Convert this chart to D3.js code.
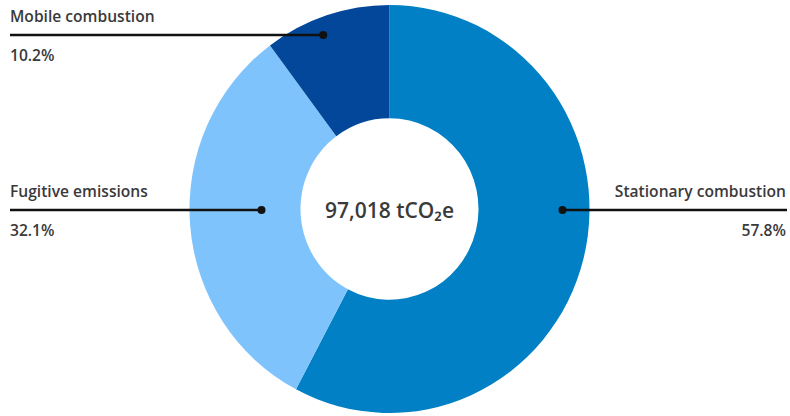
<!DOCTYPE html>
<html>
<head>
<meta charset="utf-8">
<script src="https://cdn.jsdelivr.net/npm/d3@7"></script>
<style>
  html, body { margin: 0; padding: 0; background: #fff; }
  svg { display: block; }
  text { font-family: "Open Sans", Lato, sans-serif; fill: #3a3a3a; }
</style>
</head>
<body>
<svg id="chart" width="790" height="416"></svg>
<script>
// Scope 1 emissions by source
const categories = ["Stationary combustion", "Fugitive emissions", "Mobile combustion"];
const shares = [57.8, 32.1, 10.2];
const colors = ["#0180c5", "#7fc3fc", "#03479a"];
const totalLabel = "97,018 tCO₂e";

// Label placement: side, line level and how far into the ring the marker sits
const labelSide = ["right", "left", "left"];
const lineY = [210, 210, 35];
const markerRadius = [173, 128, 183];

const W = 790, H = 416;
const cx = 389.5, cy = 209;
const outerR = 200, innerR = 89, yStretch = 1.02;

const svg = d3.select("#chart");

const pie = d3.pie().sort(null).value(d => d)(shares);
const arc = d3.arc().innerRadius(innerR).outerRadius(outerR);

svg.append("g")
  .attr("transform", `translate(${cx},${cy}) scale(1,${yStretch})`)
  .selectAll("path")
  .data(pie)
  .join("path")
  .attr("d", arc)
  .attr("fill", (d, i) => colors[i]);

// Center total
svg.append("text")
  .attr("x", cx)
  .attr("y", cy + 9)
  .attr("text-anchor", "middle")
  .style("font-size", "21px")
  .style("font-weight", 600)
  .text(totalLabel);

// Leader lines, markers and labels
const fmt = v => v.toFixed(1) + "%";
const labels = svg.append("g");
categories.forEach((name, i) => {
  const y = lineY[i];
  const dy = (y - cy) / yStretch;
  const dx = Math.sqrt(Math.max(0, markerRadius[i] ** 2 - dy ** 2));
  const right = labelSide[i] === "right";
  const mx = right ? cx + dx : cx - dx;
  const edgeX = right ? 787 : 10;

  labels.append("line")
    .attr("x1", mx).attr("x2", edgeX)
    .attr("y1", y).attr("y2", y)
    .attr("stroke", "#111")
    .attr("stroke-width", 2.5);

  labels.append("circle")
    .attr("cx", mx).attr("cy", y).attr("r", 4)
    .attr("fill", "#111");

  const tx = right ? 786 : 10;
  const anchor = right ? "end" : "start";
  labels.append("text")
    .attr("x", tx).attr("y", y - 13)
    .attr("text-anchor", anchor)
    .style("font-size", "15.6px")
    .style("font-weight", 600)
    .text(name);
  labels.append("text")
    .attr("x", tx).attr("y", y + 26)
    .attr("text-anchor", anchor)
    .style("font-size", "15.6px")
    .style("font-weight", 600)
    .text(fmt(shares[i]));
});
</script>
</body>
</html>
